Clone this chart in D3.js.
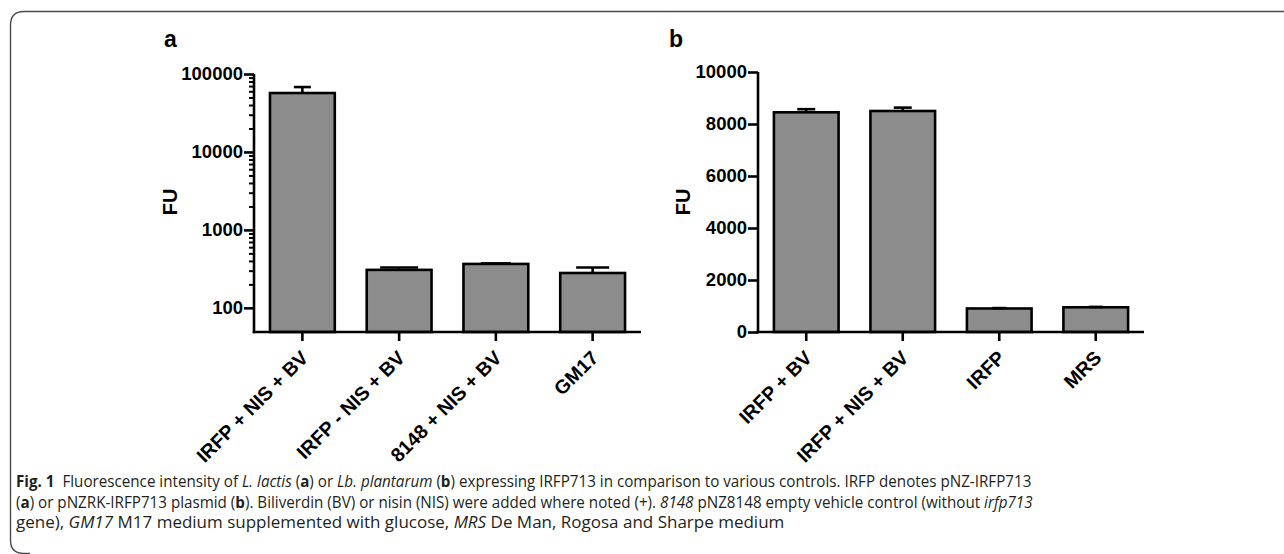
<!DOCTYPE html>
<html><head><meta charset="utf-8">
<script src="https://cdn.jsdelivr.net/npm/d3@7"></script>
<style>
html,body{margin:0;padding:0;background:#fff;}
svg{display:block;}
.tick text{font-family:Arial,"Liberation Sans",sans-serif;font-weight:bold;}
</style></head><body>
<svg id="chart" width="1284" height="554"></svg>
<script>
// ---------- data ----------
const catsA = ["IRFP + NIS + BV", "IRFP - NIS + BV", "8148 + NIS + BV", "GM17"];
const valsA = [57000, 307, 366, 280];
const errA  = [11000, 22, 6, 50];
const ticksA = [100, 1000, 10000, 100000];

const catsB = ["IRFP + BV", "IRFP + NIS + BV", "IRFP", "MRS"];
const valsB = [8450, 8500, 905, 950];
const errB  = [120, 130, 15, 15];
const ticksB = [0, 2000, 4000, 6000, 8000, 10000];

const yLabel = "FU";

// ---------- styles ----------
const capA = [17, 38, 30, 33];
const capB = [18, 18, 14, 14];
const barFill = "#8c8c8c";
const lw = 2.6;

const svg = d3.select("#chart");

// frame
svg.append("path")
  .attr("d", "M1300,11.5 L24,11.5 Q10.5,11.5 10.5,25 L10.5,540 Q10.5,553.5 24,553.5 L30,553.5")
  .attr("fill","none").attr("stroke","#4a4a4a").attr("stroke-width",1.4);

function panel(opts){
  const g = svg.append("g");
  const {cats, vals, errs, caps, y, x0, x1, letter, letterX, fuX} = opts;
  const yBase = 332;
  const x = d3.scaleBand().domain(cats).range([x0, x1]).paddingInner(0.33).paddingOuter(0.165);

  g.append("text").attr("x", letterX).attr("y", 47).text(letter)
    .attr("font-family","Arial,'Liberation Sans',sans-serif").attr("font-weight","bold").attr("font-size",23);

  g.append("text").attr("transform", `translate(${fuX},202) rotate(-90)`)
    .attr("text-anchor","middle").attr("font-family","Arial,'Liberation Sans',sans-serif")
    .attr("font-weight","bold").attr("font-size",20).text(yLabel);

  g.selectAll("rect.bar").data(cats).join("rect")
    .attr("x", d => x(d)).attr("width", x.bandwidth())
    .attr("y", (d,i) => y(vals[i])).attr("height", (d,i) => yBase - y(vals[i]))
    .attr("fill", barFill).attr("stroke","#000").attr("stroke-width", lw);

  cats.forEach((d,i) => {
    const cx = x(d) + x.bandwidth()/2;
    g.append("line").attr("x1",cx).attr("x2",cx).attr("y1",y(vals[i])).attr("y2",y(vals[i]+errs[i]))
      .attr("stroke","#000").attr("stroke-width",lw);
    g.append("line").attr("x1",cx-caps[i]/2).attr("x2",cx+caps[i]/2).attr("y1",y(vals[i]+errs[i])).attr("y2",y(vals[i]+errs[i]))
      .attr("stroke","#000").attr("stroke-width",lw);
  });

  const ya = g.append("g").attr("transform", `translate(${x0},0)`)
    .call(d3.axisLeft(y).tickValues(opts.ticks).tickFormat(d3.format("d")).tickSize(10).tickPadding(1).tickSizeOuter(0));
  ya.select(".domain").remove();
  ya.selectAll(".tick line").attr("stroke","#000").attr("stroke-width",lw);
  ya.selectAll(".tick text").attr("font-size",18.5).attr("fill","#000");
  if (opts.minor){
    const ym = g.append("g").attr("transform", `translate(${x0},0)`)
      .call(d3.axisLeft(y).tickValues(opts.minor).tickFormat("").tickSize(5).tickSizeOuter(0));
    ym.select(".domain").remove();
    ym.selectAll(".tick line").attr("stroke","#000").attr("stroke-width",2);
  }
  g.append("line").attr("x1",x0).attr("x2",x0).attr("y1",y(y.domain()[1])).attr("y2",yBase+lw/2)
    .attr("stroke","#000").attr("stroke-width",lw);

  const xa = g.append("g").attr("transform", `translate(0,${yBase})`)
    .call(d3.axisBottom(x).tickSize(9).tickSizeOuter(0));
  xa.select(".domain").remove();
  xa.selectAll(".tick line").attr("stroke","#000").attr("stroke-width",lw);
  xa.selectAll(".tick text").attr("font-size",19.5).attr("fill","#000")
    .attr("text-anchor","end").attr("dy",null).attr("y",null)
    .attr("transform","translate(7,27) rotate(-45)");
  g.append("line").attr("x1",x0-lw/2).attr("x2",x1).attr("y1",yBase).attr("y2",yBase)
    .attr("stroke","#000").attr("stroke-width",lw);
}

const yA = d3.scaleLog().domain([49, 100000]).range([332, 74]);
const minorA = [];
[100, 1000, 10000].forEach(b => { for (let k = 2; k <= 9; k++) minorA.push(b*k); });
panel({cats:catsA, vals:valsA, errs:errA, caps:capA, y:yA, x0:254, x1:641, ticks:ticksA, minor:minorA,
       letter:"a", letterX:164, fuX:177});

const yB = d3.scaleLinear().domain([0, 10000]).range([332, 72]);
panel({cats:catsB, vals:valsB, errs:errB, caps:capB, y:yB, x0:758, x1:1144, ticks:ticksB,
       letter:"b", letterX:669, fuX:690});

// ---------- caption ----------
const capFont = "'Open Sans','Noto Sans',sans-serif";
const lines = [
  {y:487, w:1016, parts:[["Fig. 1","b"],["  Fluorescence intensity of ",""],["L. lactis","i"],[" (",""],["a","b"],[") or ",""],["Lb. plantarum","i"],[" (",""],["b","b"],[") expressing IRFP713 in comparison to various controls. IRFP denotes pNZ-IRFP713",""]]},
  {y:507.5, w:1017, parts:[["(",""],["a","b"],[") or pNZRK-IRFP713 plasmid (",""],["b","b"],["). Biliverdin (BV) or nisin (NIS) were added where noted (+). ",""],["8148","i"],[" pNZ8148 empty vehicle control (without ",""],["irfp713","i"]]},
  {y:528, w:769, parts:[["gene), ",""],["GM17","i"],[" M17 medium supplemented with glucose, ",""],["MRS","i"],[" De Man, Rogosa and Sharpe medium",""]]}
];
lines.forEach(L => {
  const t = svg.append("text").attr("x",0).attr("y",0)
    .attr("font-family",capFont).attr("font-size",16).attr("fill","#231f20")
    .attr("xml:space","preserve").style("white-space","pre");
  L.parts.forEach(p => {
    const s = t.append("tspan").text(p[0]);
    if (p[1]==="b") s.attr("font-weight","bold");
    if (p[1]==="i") s.attr("font-style","italic");
  });
  const w = t.node().getComputedTextLength();
  t.attr("transform", `translate(16,${L.y}) scale(${L.w / w},1)`);
});
</script>
</body></html>
